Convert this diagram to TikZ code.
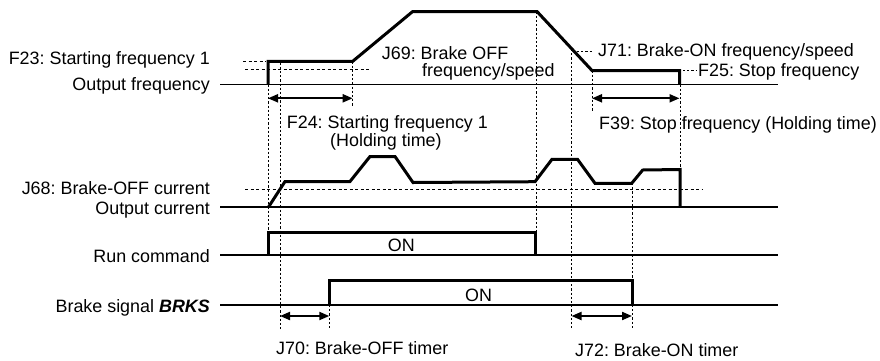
\documentclass[tikz,border=0pt]{standalone}
\usepackage{fontspec}
\setmainfont{Liberation Sans}
\usetikzlibrary{arrows.meta}
\frenchspacing
\begin{document}
\begin{tikzpicture}[x=1bp,y=-1bp,
  sig/.style={line width=3bp, line join=miter},
  axis/.style={line width=1.3bp},
  guide/.style={line width=1bp, dash pattern=on 2.2bp off 2bp},
  level/.style={line width=1bp, dash pattern=on 3bp off 2.5bp},
  span/.style={line width=2bp, {Triangle[length=10bp,width=8bp]}-{Triangle[length=10bp,width=8bp]}},
  lbl/.style={inner sep=0pt, font=\fontsize{17.9bp}{21bp}\selectfont\frenchspacing},
]
\useasboundingbox (0,0) rectangle (880,360);
% axes
\coordinate (fL) at (220,84.5); \coordinate (fR) at (778,84.5);
\coordinate (cL) at (220,207);  \coordinate (cR) at (778,207);
\coordinate (rL) at (220,255);  \coordinate (rR) at (778,255);
\coordinate (bL) at (220,305);  \coordinate (bR) at (778,305);
\draw[axis] (fL) -- (fR);
\draw[axis] (cL) -- (cR);
\draw[axis] (rL) -- (rR);
\draw[axis] (bL) -- (bR);
% row labels
\node[lbl, anchor=base east] (lF23) at (210,64.5) {F23: Starting frequency 1};
\node[lbl, anchor=base east] (lOF) at (210,90.7) {Output frequency};
\node[lbl, anchor=base east] (lJ68) at (210,194) {J68: Brake-OFF current};
\node[lbl, anchor=base east] (lOC) at (210,214) {Output current};
\node[lbl, anchor=base east] (lRun) at (210,262) {Run command};
\node[lbl, anchor=base east] (lBrk) at (210,312) {Brake signal \textbf{\textit{BRKS}}};
% frequency curve
\draw[sig] (268,84.5) -- (268,61.3) -- (352.7,61.3) -- (412.7,11.5) -- (537,11.5) -- (592,70.5) -- (679.5,70.5) -- (679.5,84.5);
% current curve
\draw[sig] (268.5,207) -- (285,181.5) -- (350,181.5) -- (370,156.5) -- (395,156.5) -- (413,182.5) -- (535,181.7) -- (552,159.3) -- (577.5,159.3) -- (595,183.3) -- (631.7,183.3) -- (642.7,170) -- (680,169.5) -- (680,207);
% run command
\draw[sig] (268.3,255) -- (268.3,232.5) -- (535,232.5) -- (535,255);
% brake signal
\draw[sig] (329.3,305) -- (329.3,280) -- (632.7,280) -- (632.7,305);
% level lines
\draw[level] (243,61.3) -- (266,61.3);
\draw[level] (245,69.7) -- (369,69.7);
\draw[level] (245,189.3) -- (702.7,189.3);
\draw[guide] (577,51.7) -- (593,51.7);
\draw[guide] (683,70.5) -- (697,70.5);
% vertical guides
\coordinate (t1a) at (268,84.5);   \coordinate (t1b) at (268,232.5);
\coordinate (t2a) at (280,62.5);   \coordinate (t2b) at (280,330);
\coordinate (t3a) at (352.7,61.3); \coordinate (t3b) at (352.7,107);
\coordinate (t4a) at (329.3,305);  \coordinate (t4b) at (329.3,330);
\coordinate (t5a) at (536,11.5);   \coordinate (t5b) at (536,232.5);
\coordinate (t6a) at (571.5,49);   \coordinate (t6b) at (571.5,330);
\coordinate (t7a) at (592,70.5);   \coordinate (t7b) at (592,112);
\coordinate (t8a) at (680,84.5);   \coordinate (t8b) at (680,169.5);
\coordinate (t9a) at (632,183);    \coordinate (t9b) at (632,330);
\foreach \p in {1,...,9} \draw[guide] (t\p a) -- (t\p b);
% spans
\coordinate (a1) at (268,98.3);   \coordinate (b1) at (352.7,98.3);
\coordinate (a2) at (592,98.3);   \coordinate (b2) at (679.5,98.3);
\coordinate (a3) at (280,316);    \coordinate (b3) at (329.3,316);
\coordinate (a4) at (571.5,316);  \coordinate (b4) at (632,316);
\foreach \p in {1,...,4} \draw[span] (a\p) -- (b\p);
% annotations
\node[lbl, anchor=base west] (lJ69a) at (381.7,59.5) {J69: Brake OFF};
\node[lbl, anchor=base west] (lJ69b) at (422,76.5) {frequency/speed};
\node[lbl, anchor=base west] (lJ71) at (598,56) {J71: Brake-ON frequency/speed};
\node[lbl, anchor=base west] (lF25) at (698,76.7) {F25: Stop frequency};
\node[lbl, anchor=base west] (lF24a) at (286.7,128.5) {F24: Starting frequency 1};
\node[lbl, anchor=base west] (lF24b) at (330,146.5) {(Holding time)};
\node[lbl, anchor=base west] (lF39) at (599,129) {F39: Stop frequency (Holding time)};
\node[lbl, anchor=base west] (lON1) at (387.7,251.7) {ON};
\node[lbl, anchor=base west] (lON2) at (465,301.7) {ON};
\node[lbl, anchor=base west] (lJ70) at (276,354) {J70: Brake-OFF timer};
\node[lbl, anchor=base west] (lJ72) at (575,356.5) {J72: Brake-ON timer};
\end{tikzpicture}
\end{document}
